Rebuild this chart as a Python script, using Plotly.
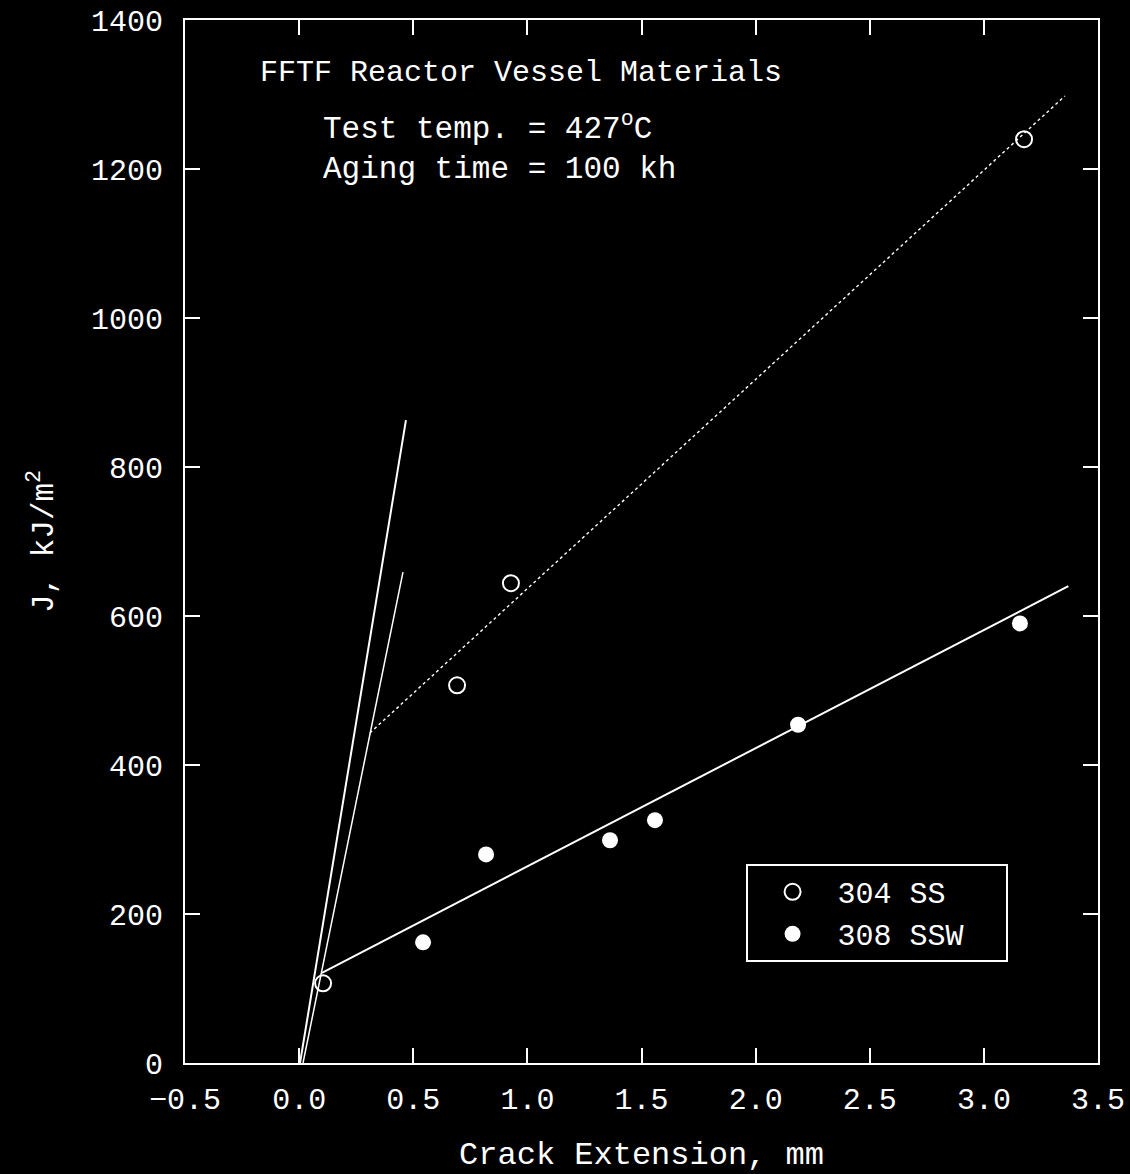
import plotly.graph_objects as go

# ---- data ----
ss304_x = [0.105, 0.692, 0.928, 3.176]
ss304_y = [107, 507, 644, 1240]

ssw308_x = [0.543, 0.819, 1.362, 1.559, 2.186, 3.158]
ssw308_y = [162, 280, 299, 326, 454, 590]

fit304_x = [0.31, 3.355]
fit304_y = [443, 1298]

fit308_x = [0.10, 3.37]
fit308_y = [121, 640]

blunt1_x = [0.004, 0.468]
blunt1_y = [0, 863]

blunt2_x = [0.017, 0.455]
blunt2_y = [0, 659]

x_ticks = [-0.5, 0.0, 0.5, 1.0, 1.5, 2.0, 2.5, 3.0, 3.5]
x_ticklabels = ["\u22120.5", "0.0", "0.5", "1.0", "1.5", "2.0", "2.5", "3.0", "3.5"]
y_ticks = [0, 200, 400, 600, 800, 1000, 1200, 1400]

FONT = "Liberation Mono, Courier New, monospace"
W = "white"

fig = go.Figure()

# lines
fig.add_trace(go.Scatter(x=blunt1_x, y=blunt1_y, mode="lines",
                         line=dict(color=W, width=2), showlegend=False, hoverinfo="skip"))
fig.add_trace(go.Scatter(x=blunt2_x, y=blunt2_y, mode="lines",
                         line=dict(color=W, width=1.5), showlegend=False, hoverinfo="skip"))
fig.add_trace(go.Scatter(x=fit304_x, y=fit304_y, mode="lines",
                         line=dict(color=W, width=1.4, dash="dot"), showlegend=False, hoverinfo="skip"))
fig.add_trace(go.Scatter(x=fit308_x, y=fit308_y, mode="lines",
                         line=dict(color=W, width=2), showlegend=False, hoverinfo="skip"))

# points
fig.add_trace(go.Scatter(x=ss304_x, y=ss304_y, mode="markers", name="304 SS",
                         marker=dict(symbol="circle-open", size=16, color=W,
                                     line=dict(color=W, width=2))))
fig.add_trace(go.Scatter(x=ssw308_x, y=ssw308_y, mode="markers", name="308 SSW\u00a0\u00a0",
                         marker=dict(symbol="circle", size=16, color=W)))

# text annotations
fig.add_annotation(x=-0.18, y=1329, xref="x", yref="y", text="FFTF Reactor Vessel Materials",
                   showarrow=False, xanchor="left", yanchor="middle",
                   font=dict(family=FONT, size=30, color=W))
fig.add_annotation(x=0.096, y=1256, xref="x", yref="y", text="Test temp. = 427<sup>o</sup>C",
                   showarrow=False, xanchor="left", yanchor="middle",
                   font=dict(family=FONT, size=31, color=W))
fig.add_annotation(x=0.096, y=1200, xref="x", yref="y", text="Aging time = 100 kh",
                   showarrow=False, xanchor="left", yanchor="middle",
                   font=dict(family=FONT, size=31, color=W))

axis_common = dict(
    showline=True, linecolor=W, linewidth=2, mirror="ticks",
    ticks="inside", ticklen=15, tickwidth=2, tickcolor=W,
    showgrid=False, zeroline=False,
    tickfont=dict(family=FONT, size=30, color=W),
)

fig.update_xaxes(range=[-0.5, 3.5], tickvals=x_ticks, ticktext=x_ticklabels,
                 title=dict(text="Crack Extension, mm", standoff=38,
                            font=dict(family=FONT, size=32, color=W)),
                 ticklabelstandoff=8,
                 **axis_common)
fig.update_yaxes(range=[0, 1400], tickvals=y_ticks,
                 title=dict(text="J, kJ/m<sup>2</sup>", standoff=28,
                            font=dict(family=FONT, size=31, color=W)),
                 ticklabelstandoff=14,
                 **axis_common)

fig.update_layout(
    width=1130, height=1174,
    paper_bgcolor="black", plot_bgcolor="black",
    margin=dict(l=185, r=32, t=20, b=111, autoexpand=False),
    font=dict(family=FONT, color=W),
    legend=dict(x=0.614, y=0.191, xanchor="left", yanchor="top",
                bgcolor="black", bordercolor=W, borderwidth=2,
                font=dict(family=FONT, size=30, color=W),
                itemwidth=80, tracegroupgap=0),
    showlegend=True,
)

fig.write_html("out.html")
